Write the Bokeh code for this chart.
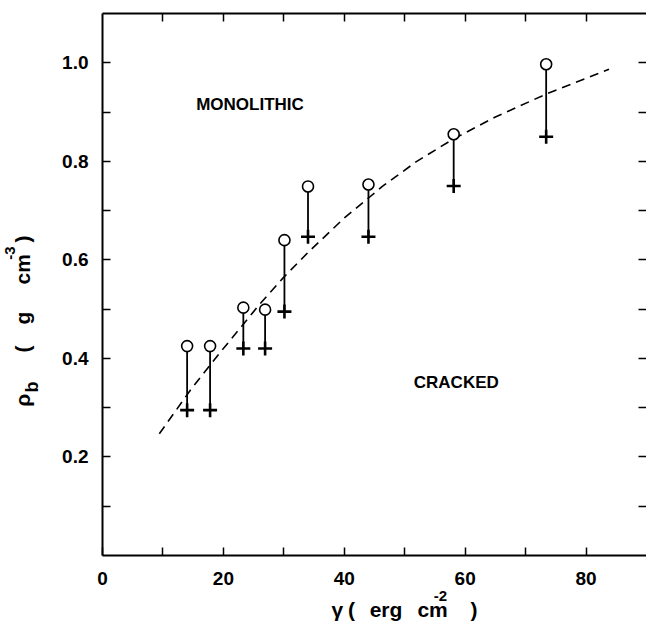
from math import pi
from bokeh.plotting import figure
from bokeh.models import Range1d, FixedTicker, LinearAxis, Label, ColumnDataSource, PrintfTickFormatter
from bokeh.embed import file_html
from bokeh.resources import INLINE

# ---- data ----
gamma = [14.0, 17.8, 23.3, 26.9, 30.1, 34.0, 44.0, 58.1, 73.4]
rho_monolithic = [0.425, 0.425, 0.503, 0.499, 0.64, 0.749, 0.753, 0.855, 0.997]
rho_cracked = [0.295, 0.295, 0.42, 0.42, 0.495, 0.647, 0.647, 0.75, 0.85]

curve_x = [9.4, 14.5, 19.0, 23.0, 26.0, 30.0, 34.0, 40.0, 46.4, 52.0, 58.0, 65.0, 73.5, 83.8]
curve_y = [0.247, 0.335, 0.405, 0.465, 0.51, 0.565, 0.615, 0.685, 0.75, 0.80, 0.845, 0.89, 0.937, 0.987]

x_major = [0, 20, 40, 60, 80]
x_minor = [10, 30, 50, 70]
y_major = [0.2, 0.4, 0.6, 0.8, 1.0]
y_minor = [0.1, 0.3, 0.5, 0.7, 0.9]
x_all = [10, 20, 30, 40, 50, 60, 70, 80]
y_all = [0.1, 0.2, 0.3, 0.4, 0.5, 0.6, 0.7, 0.8, 0.9, 1.0]

X_LIM = (0, 90)
Y_LIM = (0, 1.1)

FONT = "Liberation Sans"

# the plotting frame fills the whole canvas; axes sit at fixed data locations
W, H = 646, 621
L, R, T, B = 102, 646, 13, 555          # pixel box of the drawn axes frame
sx = (X_LIM[1] - X_LIM[0]) / (R - L)
sy = (Y_LIM[1] - Y_LIM[0]) / (B - T)
xr = Range1d(X_LIM[0] - L * sx, X_LIM[1] + (W - R) * sx)
yr = Range1d(Y_LIM[0] - (H - B) * sy, Y_LIM[1] + T * sy)

p = figure(width=W, height=H, x_range=xr, y_range=yr,
           output_backend="svg", toolbar_location=None, min_border=0,
           x_axis_location=None, y_axis_location=None)
p.grid.visible = False
p.outline_line_color = None
p.background_fill_color = "white"
p.border_fill_color = "white"


def style_axis(ax, labels=True):
    ax.major_tick_in = 8
    ax.major_tick_out = 0
    ax.minor_tick_in = 8
    ax.minor_tick_out = 0
    ax.axis_line_width = 2
    ax.major_tick_line_width = 1.5
    ax.minor_tick_line_width = 1.5
    ax.axis_line_color = "black"
    if labels:
        ax.major_label_text_font = FONT
        ax.major_label_text_font_style = "bold"
        ax.major_label_text_font_size = "19px"
        ax.major_label_text_color = "black"
    else:
        ax.major_label_text_font_size = "0px"
        ax.major_label_standoff = 0


bottom = LinearAxis(ticker=FixedTicker(ticks=x_major, minor_ticks=x_minor),
                    fixed_location=Y_LIM[0], bounds=X_LIM)
style_axis(bottom)
bottom.major_label_standoff = 16
p.add_layout(bottom, "below")

left = LinearAxis(ticker=FixedTicker(ticks=y_major, minor_ticks=y_minor),
                  formatter=PrintfTickFormatter(format="%.1f"),
                  fixed_location=X_LIM[0], bounds=Y_LIM)
style_axis(left)
left.major_label_standoff = 14
p.add_layout(left, "left")

top = LinearAxis(ticker=FixedTicker(ticks=x_all, minor_ticks=[]),
                 fixed_location=Y_LIM[1], bounds=X_LIM)
style_axis(top, labels=False)
p.add_layout(top, "above")

right = LinearAxis(ticker=FixedTicker(ticks=y_all, minor_ticks=[]),
                   fixed_location=X_LIM[1], bounds=Y_LIM)
style_axis(right, labels=False)
right.axis_line_color = None
p.add_layout(right, "right")

# dashed boundary curve
p.line(curve_x, curve_y, line_dash="9 6", line_width=1.6, line_color="black")

src = ColumnDataSource(dict(x=gamma, ym=rho_monolithic, yc=rho_cracked))
p.segment(x0="x", y0="ym", x1="x", y1="yc", source=src, line_width=1.8, line_color="black")
p.scatter(x="x", y="ym", source=src, marker="circle", size=11, fill_color="white",
          line_color="black", line_width=1.6)
p.scatter(x="x", y="yc", source=src, marker="cross", size=14, line_color="black", line_width=2.6)

# region annotations
p.add_layout(Label(x=15.5, y=0.915, text="MONOLITHIC", text_font=FONT, text_font_style="bold",
                   text_font_size="17px", text_baseline="middle", text_color="black"))
p.add_layout(Label(x=51.5, y=0.352, text="CRACKED", text_font=FONT, text_font_style="bold",
                   text_font_size="17px", text_baseline="middle", text_color="black"))


def lab(x, y, t, size="21px", angle=0.0, xo=0, yo=0):
    p.add_layout(Label(x=x, y=y, text=t, text_font=FONT, text_font_style="bold",
                       text_font_size=size, angle=angle, x_offset=xo, y_offset=yo,
                       text_baseline="alphabetic", text_align="left", text_color="black"))


# x axis title: γ ( erg  cm^-2 )
xb = -0.1096
lab(37.9, xb, "γ")
lab(40.6, xb, "(")
lab(44.2, xb, "erg")
lab(52.1, xb, "cm")
lab(54.8, -0.083, "-2", size="15px")
lab(60.9, xb, ")")

# y axis title: ρb ( g  cm^-3 )
yx = -13.2
lab(yx, 0.302, "ρ", angle=pi / 2)
lab(yx, 0.331, "b", size="18px", angle=pi / 2, xo=9)
lab(yx, 0.412, "(", angle=pi / 2)
lab(yx, 0.469, "g", angle=pi / 2)
lab(yx, 0.550, "cm", angle=pi / 2)
lab(yx, 0.600, "-3", size="15px", angle=pi / 2, xo=-13)
lab(yx, 0.635, ")", angle=pi / 2)

open("out.html", "w").write(file_html(p, INLINE))
